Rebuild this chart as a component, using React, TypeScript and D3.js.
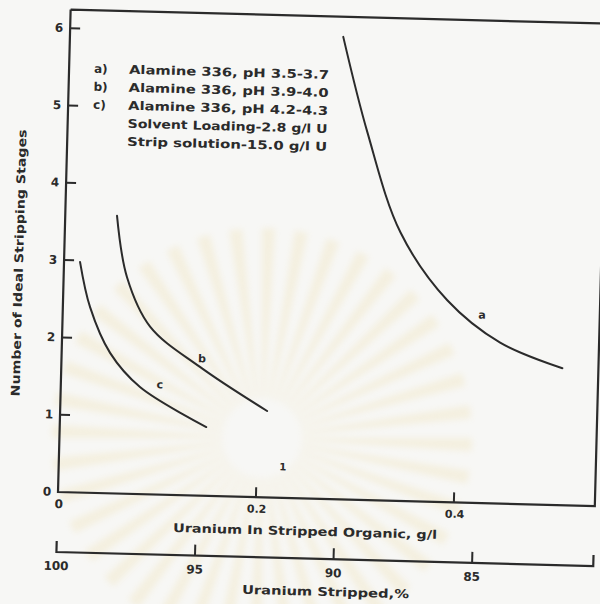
import React from "react";
import * as d3 from "d3";

// axis values
const xMax = 0.5424; // g/l at right border
const yTop = 6.24;
const xTicks = [0.2, 0.4];
const xTickLabels = ["0.2", "0.4"];
const yTicks = [1, 2, 3, 4, 5, 6];
const pctTicks = [100, 95, 90, 85];
const solventLoading = 2.8; // g/l U

// curves: [g/l U in stripped organic, stages]
const curveA = [
  [0.276, 5.98],
  [0.303, 4.75],
  [0.339, 3.47],
  [0.388, 2.61],
  [0.4425, 2.08],
  [0.506, 1.77],
];
const curveB = [
  [0.0523, 3.59],
  [0.064, 2.8],
  [0.0886, 2.17],
  [0.14, 1.665],
  [0.209, 1.118],
];
const curveC = [
  [0.0162, 2.98],
  [0.0275, 2.4],
  [0.0489, 1.816],
  [0.08, 1.385],
  [0.148, 0.89],
];
const curveNames = ["a", "b", "c"];
const curveLabelAt = [
  [0.4236, 2.43],
  [0.142, 1.77],
  [0.1, 1.42],
];

const legendKeys = ["a)", "b)", "c)", "", ""];
const legendLines = [
  "Alamine 336, pH 3.5-3.7",
  "Alamine 336, pH 3.9-4.0",
  "Alamine 336, pH 4.2-4.3",
  "Solvent Loading-2.8 g/l U",
  "Strip solution-15.0 g/l U",
];

const ink = "#2b2b2b";
const font = "'DejaVu Sans', Verdana, sans-serif";

export default function App() {
  const x = d3.scaleLinear().domain([0, xMax]).range([58, 595]);
  const y = d3.scaleLinear().domain([0, 6]).range([492, 28]);
  // % stripped follows from the g/l scale and the solvent loading
  const pct = d3
    .scaleLinear()
    .domain([100, 100 * (1 - xMax / solventLoading)])
    .range([58, 595]);

  const line = d3
    .line<number[]>()
    .x((d) => x(d[0]))
    .y((d) => y(d[1]))
    .curve(d3.curveCatmullRom.alpha(0.5));

  const x0 = x(0);
  const x1 = x(xMax);
  const y0 = y(0);
  const yT = y(yTop);
  const pctY = 552;

  // faint watermark rays behind the chart
  const rays = d3.range(40).map((i) => {
    const a0 = (i / 40) * Math.PI * 2;
    return d3.arc()({
      innerRadius: 40,
      outerRadius: 210,
      startAngle: a0,
      endAngle: a0 + (Math.PI * 2) / 100,
    } as any);
  });

  return (
    <svg
      width={600}
      height={604}
      style={{ position: "absolute", left: 0, top: 0 }}
      fontFamily={font}
    >
      <defs>
        <filter id="soft">
          <feGaussianBlur stdDeviation={3} />
        </filter>
      </defs>
      <rect width={600} height={604} fill="#f7f7f5" />
      <g transform="translate(262,438)" fill="#efe2b8" opacity={0.35} filter="url(#soft)">
        {rays.map((p, i) => (
          <path key={i} d={p as string} />
        ))}
      </g>

      <g transform={`rotate(1.5, ${x0}, ${y0})`}>
        {/* frame */}
        <path
          d={`M${x0},${yT}H${x1 + 12}M${x0},${yT}V${y0}H${x1}V${yT - 5}`}
          fill="none"
          stroke={ink}
          strokeWidth={2.2}
        />
        {/* y ticks */}
        {yTicks.map((t) => (
          <g key={t}>
            <line x1={x0} x2={x0 + 10} y1={y(t)} y2={y(t)} stroke={ink} strokeWidth={2} />
            <text
              x={47}
              y={y(t)}
              fontSize={12}
              fontWeight="bold"
              fill={ink}
              textAnchor="middle"
              dominantBaseline="central"
            >
              {t}
            </text>
          </g>
        ))}
        <text x={47} y={y0} fontSize={12} fontWeight="bold" fill={ink} textAnchor="middle" dominantBaseline="central">
          0
        </text>
        {/* x ticks */}
        <text x={x0 + 1} y={y0 + 12} fontSize={12} fontWeight="bold" fill={ink} textAnchor="middle" dominantBaseline="central">
          0
        </text>
        {xTicks.map((t, i) => (
          <g key={t}>
            <line x1={x(t)} x2={x(t)} y1={y0} y2={y0 - 10} stroke={ink} strokeWidth={2} />
            <text
              x={x(t) + 1}
              y={y0 + 12}
              fontSize={11}
              fontWeight="bold"
              fill={ink}
              textAnchor="middle"
              dominantBaseline="central"
            >
              {xTickLabels[i]}
            </text>
          </g>
        ))}
        <text
          x={306}
          y={525}
          fontSize={12}
          fontWeight="bold"
          fill={ink}
          textAnchor="middle"
          dominantBaseline="central"
          textLength={264}
          lengthAdjust="spacingAndGlyphs"
        >
          Uranium In Stripped Organic, g/l
        </text>

        {/* % stripped axis */}
        <path
          d={`M${pct(100)},${pctY - 11}V${pctY}H${x1}V${pctY - 11}`}
          fill="none"
          stroke={ink}
          strokeWidth={2.2}
        />
        {pctTicks.slice(1).map((t) => (
          <line key={t} x1={pct(t)} x2={pct(t)} y1={pctY} y2={pctY - 11} stroke={ink} strokeWidth={2} />
        ))}
        {pctTicks.map((t) => (
          <text
            key={t}
            x={pct(t)}
            y={pctY + 14}
            fontSize={12}
            fontWeight="bold"
            fill={ink}
            textAnchor="middle"
            dominantBaseline="central"
          >
            {t}
          </text>
        ))}
        <text
          x={328}
          y={585}
          fontSize={12}
          fontWeight="bold"
          fill={ink}
          textAnchor="middle"
          dominantBaseline="central"
          textLength={167}
          lengthAdjust="spacingAndGlyphs"
        >
          Uranium Stripped,%
        </text>

        {/* y title */}
        <text
          transform="translate(13,264) rotate(-90)"
          fontSize={12}
          fontWeight="bold"
          fill={ink}
          textAnchor="middle"
          dominantBaseline="central"
          textLength={267}
          lengthAdjust="spacingAndGlyphs"
        >
          Number of Ideal Stripping Stages
        </text>

        {/* legend */}
        {legendLines.map((s, i) => (
          <g key={i}>
            {legendKeys[i] && (
              <text x={83} y={68 + i * 18} fontSize={12} fontWeight="bold" fill={ink} dominantBaseline="central">
                {legendKeys[i]}
              </text>
            )}
            <text
              x={118}
              y={68 + i * 18}
              fontSize={12}
              fontWeight="bold"
              fill={ink}
              dominantBaseline="central"
              textLength={200}
              lengthAdjust="spacingAndGlyphs"
            >
              {s}
            </text>
          </g>
        ))}

        {/* curves */}
        {[curveA, curveB, curveC].map((c, i) => (
          <path key={i} d={line(c) as string} fill="none" stroke={ink} strokeWidth={2} strokeLinecap="round" />
        ))}
        {curveNames.map((n, i) => (
          <text
            key={n}
            x={x(curveLabelAt[i][0])}
            y={y(curveLabelAt[i][1])}
            fontSize={11}
            fontWeight="bold"
            fill={ink}
            textAnchor="middle"
            dominantBaseline="central"
          >
            {n}
          </text>
        ))}
        <text x={282} y={461} fontSize={10} fontWeight="bold" fill={ink} textAnchor="middle" dominantBaseline="central">
          1
        </text>
      </g>
    </svg>
  );
}
